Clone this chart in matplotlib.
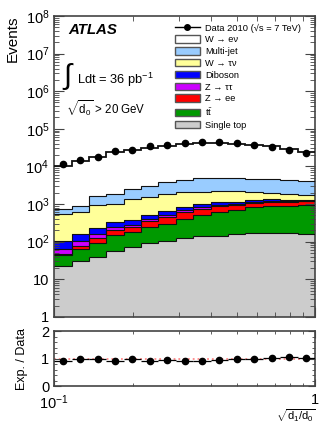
import numpy as np
import matplotlib
matplotlib.use("Agg")
import matplotlib.pyplot as plt
from matplotlib.patches import Patch
from matplotlib.lines import Line2D
from matplotlib.ticker import LogLocator, MultipleLocator, NullFormatter

plt.rcParams['font.family'] = ['Liberation Sans', 'DejaVu Sans']
plt.rcParams['mathtext.fontset'] = 'custom'
plt.rcParams['mathtext.rm'] = 'Liberation Sans'
plt.rcParams['mathtext.it'] = 'Liberation Sans:italic'
plt.rcParams['mathtext.bf'] = 'Liberation Sans:bold'

# 15 log-spaced bins in sqrt(d1/d0)
bin_edges = np.logspace(-1, 0, 16)

data = [11500, 14500, 18000, 25700, 27500, 34000, 37000, 41700,
        44300, 44300, 41700, 37200, 33100, 27600, 23400]

# stack components, bottom to top
single_top = [23, 31, 39, 58, 74, 91, 105, 123, 138, 141, 158, 170, 170, 170, 162]
ttbar = [20, 32, 52, 93, 112, 160, 190, 284, 375, 490, 550, 643, 700, 742, 771]
zee = [5, 15, 32, 53, 59, 104, 152, 210, 246, 260, 225, 234, 277, 236, 242]
ztautau = [17, 27, 35, 41, 30, 43, 70, 85, 90, 70, 80, 70, 40, 50, 55]
diboson = [40, 53, 71, 94, 111, 115, 136, 143, 172, 167, 152, 166, 143, 116, 80]
wtaunu = [432, 473, 726, 684, 1000, 1072, 1159, 1191, 1115, 1117, 1013, 850, 632, 502, 450]
multijet = [204, 260, 705, 797, 1132, 1435, 1982, 2224, 2760, 2659, 2824, 2539, 2621, 2446, 2243]
wenu = [9720, 13320, 15980, 21820, 24990, 28260, 31720, 34510,
        36300, 37190, 35440, 32150, 29520, 25270, 20120]

stack = [
    ("Single top", single_top, "#cccccc"),
    ("t$\\bar{\\mathrm{t}}$", ttbar, "#009900"),
    ("Z → ee", zee, "#ff0000"),
    ("Z → ττ", ztautau, "#cc00ff"),
    ("Diboson", diboson, "#0000ff"),
    ("W → τν", wtaunu, "#ffff99"),
    ("Multi-jet", multijet, "#99ccff"),
    ("W → eν", wenu, "#ffffff"),
]

fig = plt.figure(figsize=(3.32, 4.30), dpi=100)
ax = fig.add_axes([0.163, 0.263, 0.786, 0.700])
rax = fig.add_axes([0.163, 0.102, 0.786, 0.128])

# cumulative tops, drawn from the top layer down so lower layers cover
cum = np.cumsum([np.array(v, float) for _, v, _ in stack], axis=0)
for i in range(len(stack) - 1, -1, -1):
    lw = 1.3 if i == len(stack) - 1 else 0.8
    ax.stairs(cum[i], bin_edges, baseline=0.1, fill=True,
              facecolor=stack[i][2], edgecolor="none", zorder=2)
    ax.stairs(cum[i], bin_edges, baseline=None, color="#111111",
              lw=lw, zorder=3)

centers = np.sqrt(bin_edges[:-1] * bin_edges[1:])
data = np.array(data, float)
ax.errorbar(centers, data, yerr=np.sqrt(data), fmt="o", color="black",
            ms=4.5, lw=0.8, zorder=5)

ax.set_xscale("log")
ax.set_yscale("log")
ax.set_xlim(0.1, 1)
ax.set_ylim(1, 1e8)
ax.set_yticks([1, 10, 1e2, 1e3, 1e4, 1e5, 1e6, 1e7, 1e8],
              ["1", "10", "$10^2$", "$10^3$", "$10^4$", "$10^5$",
               "$10^6$", "$10^7$", "$10^8$"])
ax.yaxis.set_minor_locator(LogLocator(subs=np.arange(2, 10)))
ax.yaxis.set_minor_formatter(NullFormatter())
ax.set_xticks([0.1, 1], ["", ""])
ax.xaxis.set_minor_formatter(NullFormatter())
ax.set_ylabel("Events", loc="top", fontsize=11)
ax.yaxis.set_label_coords(-0.13, 1.0)

ax.text(0.054, 0.953, "ATLAS", transform=ax.transAxes, fontsize=10.8,
        fontweight="bold", fontstyle="italic", va="center")
ax.text(0.03, 0.80, "$\\int$", transform=ax.transAxes, fontsize=21,
        va="center")
ax.text(0.088, 0.787, "Ldt = 36 pb$^{-1}$", transform=ax.transAxes,
        fontsize=9.3, va="center")
ax.text(0.045, 0.693, "$\\sqrt{\\mathrm{d}_0}$ > 20 GeV", transform=ax.transAxes,
        fontsize=8.3, va="center")

handles = [Line2D([], [], color="black", marker="o", ms=4, lw=1)]
labels = ["Data 2010 (√s = 7 TeV)"]
for name, _, col in stack[::-1]:
    handles.append(Patch(facecolor=col, edgecolor="#555555", lw=1))
    labels.append(name)
ax.legend(handles, labels, loc="upper left", bbox_to_anchor=(0.462, 0.975),
          frameon=False, fontsize=6.7, borderpad=0, borderaxespad=0,
          handlelength=2.7, handleheight=0.85, labelspacing=0.3,
          handletextpad=0.55)

# ratio panel
expected = cum[-1]
ratio = expected / data
xerr = [centers - bin_edges[:-1], bin_edges[1:] - centers]
rax.axhline(1, color="#ff8888", ls=":", lw=1.3, zorder=1)
rax.errorbar(centers, ratio, xerr=xerr, fmt="o", color="black",
             ms=4.5, lw=0.9, zorder=3)
rax.set_xscale("log")
rax.set_xlim(0.1, 1)
rax.set_ylim(0, 2)
rax.set_yticks([0, 1, 2])
rax.yaxis.set_minor_locator(MultipleLocator(0.2))
rax.set_xticks([0.1, 1], ["$10^{-1}$", "1"])
rax.xaxis.set_minor_formatter(NullFormatter())
rax.set_ylabel("Exp. / Data", fontsize=9)
rax.yaxis.set_label_coords(-0.1, 0.5)
rax.set_xlabel("$\\sqrt{\\mathrm{d}_1/\\mathrm{d}_0}$", loc="right", fontsize=8)
rax.xaxis.set_label_coords(1.0, -0.38)

for a in (ax, rax):
    for s in a.spines.values():
        s.set_linewidth(1.2)
        s.set_color("#444444")
    a.tick_params(which="both", direction="in", top=True, right=True,
                  color="#444444", labelsize=10.5)
    a.tick_params(which="major", length=7)
    a.tick_params(which="minor", length=3.5)
    a.set_axisbelow(False)
rax.tick_params(which="major", length=5)
rax.tick_params(which="minor", length=2.5)
rax.tick_params(axis="x", pad=5)

fig.savefig("out.png", dpi=100)
